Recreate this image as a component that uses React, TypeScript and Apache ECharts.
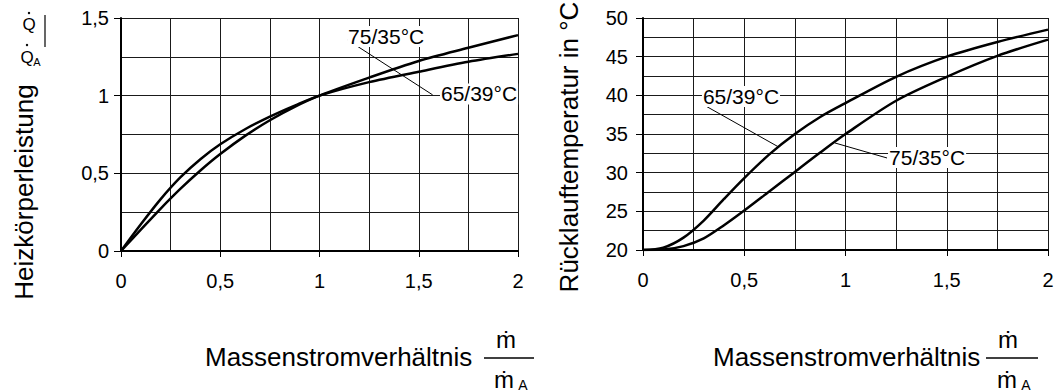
import React, { useEffect, useRef } from "react";
import * as echarts from "echarts";

// ---- data ----
const massFlowRatio = [0, 0.1, 0.2, 0.3, 0.4, 0.5, 0.625, 0.75, 0.875, 1, 1.25, 1.5, 1.75, 2];
const heatOutput75_35 = [0, 0.137, 0.273, 0.401, 0.518, 0.624, 0.741, 0.842, 0.928, 1, 1.116, 1.223, 1.308, 1.39];
const heatOutput65_39 = [0, 0.172, 0.334, 0.475, 0.591, 0.687, 0.784, 0.865, 0.936, 1, 1.087, 1.154, 1.218, 1.269];
const returnTemp75_35 = [20, 20.05, 20.5, 21.5, 23.2, 25.1, 27.6, 30.1, 32.6, 35, 39.3, 42.4, 45.1, 47.2];
const returnTemp65_39 = [20, 20.3, 21.6, 23.8, 26.6, 29.3, 32.4, 35, 37.2, 39, 42.4, 45, 46.9, 48.5];

const seriesNames = ["75/35°C", "65/39°C"];

// annotation anchors (data coordinates) and leader lines
const leftLabel75 = [1.139, 1.381];
const leftLabel65 = [1.607, 1.011];
const leftLeader = [[1.14, 1.36], [1.57, 1.005]];
const rightLabel65 = [0.291, 39.85];
const rightLeader65 = [[0.301, 38.75], [0.667, 33.36]];
const rightLabel75 = [1.21, 31.96];
const rightLeader75 = [[0.948, 33.84], [1.205, 31.9]];

const xTitle = "Massenstromverhältnis";
const yTitleLeft = "Heizkörperleistung";
const yTitleRight = "Rücklauftemperatur in °C";

const FONT = '"Liberation Sans", Arial, Helvetica, sans-serif';
const fmt = (v: number) => String(v).replace(".", ",");

const pairs = (xs: number[], ys: number[]) => xs.map((x, i) => [x, ys[i]]);

function xAxis(gridIndex: number) {
  return {
    type: "value",
    gridIndex,
    min: 0,
    max: 2,
    interval: 0.5,
    axisLine: { show: true, onZero: false, lineStyle: { color: "#000", width: 2 } },
    axisTick: { show: true, length: 6, lineStyle: { color: "#000", width: 1 } },
    axisLabel: { show: true, margin: 20, fontSize: 20, color: "#000", fontFamily: FONT, formatter: fmt },
    splitLine: { show: true, lineStyle: { color: "#1a1a1a", width: 1 } },
    minorTick: { show: false, splitNumber: 2 },
    minorSplitLine: { show: true, lineStyle: { color: "#1a1a1a", width: 1 } },
  };
}

function yAxis(gridIndex: number, min: number, max: number, interval: number, margin: number) {
  return {
    type: "value",
    gridIndex,
    min,
    max,
    interval,
    axisLine: { show: true, onZero: false, lineStyle: { color: "#000", width: 2 } },
    axisTick: { show: true, length: 7, lineStyle: { color: "#000", width: 1 } },
    axisLabel: { show: true, margin, fontSize: 20, color: "#000", fontFamily: FONT, formatter: fmt },
    splitLine: { show: true, lineStyle: { color: "#1a1a1a", width: 1 } },
    minorTick: { show: false, splitNumber: 2 },
    minorSplitLine: { show: true, lineStyle: { color: "#1a1a1a", width: 1 } },
  };
}

function curve(name: string, idx: number, ys: number[]) {
  return {
    type: "line",
    name,
    xAxisIndex: idx,
    yAxisIndex: idx,
    data: pairs(massFlowRatio, ys),
    showSymbol: false,
    smooth: 0.3,
    lineStyle: { color: "#000", width: 2.5 },
    z: 3,
  };
}

function annotation(idx: number, labels: { name: string; at: number[] }[], leaders: number[][][]) {
  return {
    type: "scatter",
    xAxisIndex: idx,
    yAxisIndex: idx,
    symbolSize: 0,
    silent: true,
    z: 5,
    itemStyle: { color: "#000", opacity: 1 },
    data: labels.map((l) => ({ name: l.name, value: l.at })),
    label: {
      show: true,
      formatter: "{b}",
      position: "right",
      distance: 0,
      fontSize: 21,
      fontFamily: FONT,
      color: "#000",
      opacity: 1,
      backgroundColor: "#fff",
      padding: [0, 1],
    },
    markLine: {
      silent: true,
      symbol: ["none", "none"],
      label: { show: false },
      lineStyle: { color: "#000", width: 1, type: "solid", opacity: 1 },
      data: leaders.map((l) => [{ coord: l[0] }, { coord: l[1] }]),
    },
  };
}

const txt = (text: string, x: number, y: number, fontSize: number, extra: any = {}) => ({
  type: "text",
  x,
  y,
  silent: true,
  ...extra,
  style: { text, fontSize, fontFamily: FONT, fill: "#000", align: "center", verticalAlign: "middle", ...(extra.style || {}) },
});

export default function App() {
  const ref = useRef<HTMLDivElement>(null);
  useEffect(() => {
    document.body.style.margin = "0";
    document.body.style.background = "#fff";
    const chart = echarts.init(ref.current!, null, { renderer: "svg" });
    chart.setOption({
      animation: false,
      backgroundColor: "#fff",
      grid: [
        { left: 121, top: 18, width: 397, height: 233 },
        { left: 643, top: 18, width: 405, height: 232 },
      ],
      xAxis: [xAxis(0), xAxis(1)],
      yAxis: [yAxis(0, 0, 1.5, 0.5, 12), yAxis(1, 20, 50, 5, 15)],
      series: [
        curve(seriesNames[0], 0, heatOutput75_35),
        curve(seriesNames[1], 0, heatOutput65_39),
        curve(seriesNames[0], 1, returnTemp75_35),
        curve(seriesNames[1], 1, returnTemp65_39),
        annotation(0, [{ name: seriesNames[0], at: leftLabel75 }, { name: seriesNames[1], at: leftLabel65 }], [leftLeader]),
        annotation(1, [{ name: seriesNames[1], at: rightLabel65 }, { name: seriesNames[0], at: rightLabel75 }], [rightLeader65, rightLeader75]),
      ],
      graphic: [
        // x-axis titles
        txt(xTitle, 205, 357, 26, { style: { align: "left" } }),
        txt("ṁ", 506, 339, 24),
        { type: "line", silent: true, shape: { x1: 484, y1: 358, x2: 534, y2: 358 }, style: { stroke: "#000", lineWidth: 1.5 } },
        txt("ṁ", 504, 379, 24),
        txt("A", 523, 385, 14),
        txt(xTitle, 713, 357, 26, { style: { align: "left" } }),
        txt("ṁ", 1008, 339, 24),
        { type: "line", silent: true, shape: { x1: 986, y1: 358, x2: 1038, y2: 358 }, style: { stroke: "#000", lineWidth: 1.5 } },
        txt("ṁ", 1007, 379, 24),
        txt("A", 1026, 385, 14),
        // y-axis titles
        txt(yTitleLeft, 24, 192, 26, { rotation: Math.PI / 2 }),
        txt(yTitleRight, 569, 147, 26, { rotation: Math.PI / 2 }),
        // Q-dot / Q-dot_A
        txt("Q", 29, 24, 17),
        { type: "circle", silent: true, shape: { cx: 29, cy: 13, r: 1.2 }, style: { fill: "#000" } },
        { type: "line", silent: true, shape: { x1: 45, y1: 15, x2: 45, y2: 47 }, style: { stroke: "#000", lineWidth: 1.2 } },
        txt("Q", 27, 57, 17),
        { type: "circle", silent: true, shape: { cx: 27, cy: 45, r: 1.2 }, style: { fill: "#000" } },
        txt("A", 37, 62, 11),
      ],
    });
    return () => chart.dispose();
  }, []);
  return <div ref={ref} style={{ width: 1060, height: 392 }} />;
}
